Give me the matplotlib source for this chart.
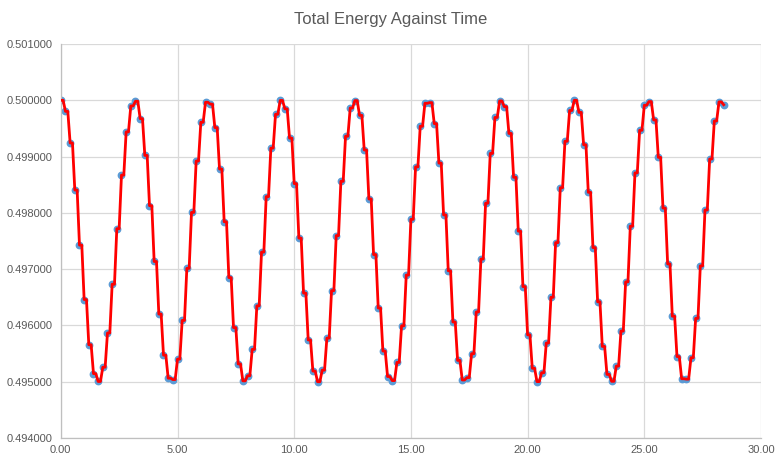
import numpy as np
import matplotlib.pyplot as plt

# Total energy samples (time step 0.2)
time_step = 0.2
energy = [
    0.500000, 0.499803, 0.499242, 0.498406, 0.497427, 0.496460, 0.495657, 0.495144,
    0.495004, 0.495258, 0.495866, 0.496732, 0.497719, 0.498671, 0.499439, 0.499900,
    0.499983, 0.499674, 0.499021, 0.498128, 0.497136, 0.496202, 0.495472, 0.495063,
    0.495038, 0.495402, 0.496089, 0.497014, 0.498008, 0.498921, 0.499610, 0.499965,
    0.499932, 0.499515, 0.498779, 0.497842, 0.496850, 0.495962, 0.495316, 0.495015,
    0.495106, 0.495575, 0.496348, 0.497303, 0.498289, 0.499151, 0.499752, 0.499997,
    0.499848, 0.499328, 0.498520, 0.497551, 0.496574, 0.495742, 0.495189, 0.495000,
    0.495206, 0.495775, 0.496618, 0.497596, 0.498561, 0.499362, 0.499863, 0.499994,
    0.499732, 0.499117, 0.498247, 0.497259, 0.496309, 0.495545, 0.495092, 0.495020,
    0.495343, 0.495994, 0.496895, 0.497886, 0.498817, 0.499539, 0.499946, 0.499958,
    0.499586, 0.498884, 0.497964, 0.496971, 0.496061, 0.495379, 0.495031, 0.495073,
    0.495498, 0.496240, 0.497180, 0.498171, 0.499056, 0.499695, 0.499988, 0.499888,
    0.499411, 0.498632, 0.497675, 0.496690, 0.495833, 0.495239, 0.495002, 0.495160,
    0.495687, 0.496500, 0.497471, 0.498447, 0.499273, 0.499819, 0.500000, 0.499785,
    0.499210, 0.498365, 0.497383, 0.496420, 0.495627, 0.495130, 0.495007, 0.495278,
    0.495900, 0.496774, 0.497763, 0.498710, 0.499467, 0.499912, 0.499977, 0.499651,
    0.498986, 0.498085, 0.497093, 0.496164, 0.495447, 0.495053, 0.495046, 0.495427,
    0.496125, 0.497058, 0.498051, 0.498957, 0.499633, 0.499972, 0.499921,
]
time = np.arange(len(energy)) * time_step

# line series: each value is held for half a step before moving on
line_t = np.empty(2 * len(time) - 1)
line_e = np.empty(2 * len(time) - 1)
line_t[0::2] = time
line_e[0::2] = energy
line_t[1::2] = time[:-1] + time_step / 2
line_e[1::2] = energy[:-1]

plt.rcParams['font.family'] = ['Liberation Sans', 'DejaVu Sans']
grey = '#595959'

fig = plt.figure(figsize=(7.81, 4.68), dpi=100)
ax = fig.add_axes([60.8 / 781, 30 / 468, (761 - 60.8) / 781, (438 - 44) / 468])

ax.plot(time, energy, 'o', color='#5B9BD5', markersize=4.6, zorder=2)
ax.plot(line_t, line_e, color='#FF0000', linewidth=2.0, zorder=3)

ax.set_xlim(0, 30)
ax.set_ylim(0.494, 0.501)
ax.set_xticks(np.arange(0, 31, 5))
ax.set_yticks(np.arange(0.494, 0.50101, 0.001))
ax.xaxis.set_major_formatter(plt.FormatStrFormatter('%.2f'))
ax.yaxis.set_major_formatter(plt.FormatStrFormatter('%.6f'))
ax.tick_params(length=0, labelsize=8, colors=grey)
ax.tick_params(axis='y', pad=6)
ax.tick_params(axis='x', pad=5)
ax.grid(True, color='#D9D9D9', linewidth=0.9)
ax.set_axisbelow(True)
for side in ['top', 'right']:
    ax.spines[side].set_visible(False)
for side in ['left', 'bottom']:
    ax.spines[side].set_color('#BFBFBF')
    ax.spines[side].set_linewidth(0.9)

fig.suptitle('Total Energy Against Time', x=0.5, y=0.975, fontsize=12, color=grey,
             va='top')

fig.savefig('out.png', dpi=100)
